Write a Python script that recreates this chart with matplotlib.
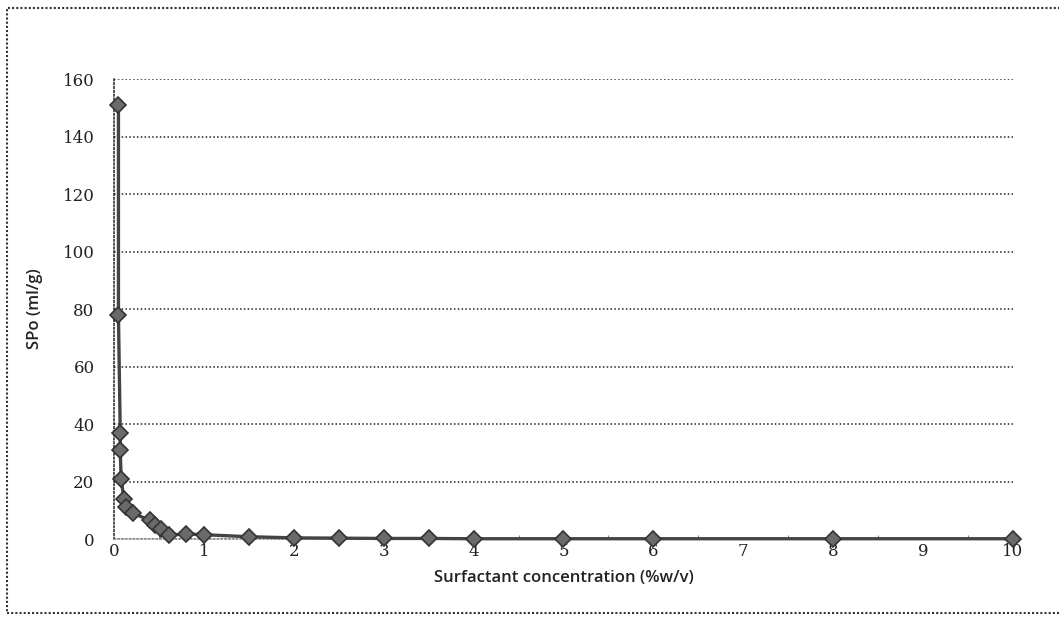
import matplotlib.pyplot as plt
from matplotlib.patches import Rectangle
from matplotlib.ticker import MultipleLocator

# concentração de surfactante (%w/v) e SPo (ml/g)
conc = [0.05, 0.05, 0.07, 0.07, 0.08, 0.11, 0.13, 0.21, 0.40, 0.46, 0.52,
        0.61, 0.80, 1.0, 1.5, 2.0, 2.5, 3.0, 3.5, 4.0, 5.0, 6.0, 8.0, 10.0]
spo = [151, 78, 37, 31, 21, 14, 11, 9, 6.5, 5, 3.5,
       1.3, 1.8, 1.5, 0.8, 0.4, 0.3, 0.2, 0.2, 0.1, 0.1, 0.1, 0.1, 0.1]

xticks = list(range(0, 11))
yticks = list(range(0, 161, 20))

fig = plt.figure(figsize=(10.59, 6.19), dpi=100)
ax = fig.add_axes([0.1076, 0.1292, 0.849, 0.743])

ax.plot(conc, spo, color='#444444', lw=2.4, marker='D', markersize=8,
        markerfacecolor='#6a6a6a', markeredgecolor='#333333', markeredgewidth=1.2,
        zorder=3, clip_on=False)

ax.set_xlim(0, 10)
ax.set_ylim(0, 160)
ax.set_xticks(xticks)
ax.set_yticks(yticks)
ax.xaxis.set_minor_locator(MultipleLocator(0.5))

ax.grid(axis='y', linestyle=(0, (1, 1.5)), color='#222222', lw=1.1)
ax.tick_params(axis='both', which='major', length=0,
               labelsize=12, labelcolor='#222222')
ax.tick_params(axis='x', which='major', pad=3)
ax.tick_params(axis='y', which='major', pad=14)
ax.tick_params(axis='x', which='minor', length=3, direction='in', color='#666666')
for lab in ax.get_xticklabels() + ax.get_yticklabels():
    lab.set_family('DejaVu Serif')

for side in ['left', 'bottom']:
    ax.spines[side].set_linestyle((0, (1, 1.5)))
    ax.spines[side].set_color('#222222')
    ax.spines[side].set_linewidth(1.1)
ax.spines['top'].set_visible(False)
ax.spines['right'].set_visible(False)
ax.spines['bottom'].set_color('#888888')

ax.set_xlabel('Surfactant concentration (%w/v)', fontsize=12, fontweight='semibold',
              family='Open Sans', color='#222222', labelpad=7)
ax.set_ylabel('SPo (ml/g)', fontsize=12, fontweight='semibold', family='Open Sans',
              color='#222222', labelpad=14)

# moldura pontilhada do gráfico
fig.patches.append(Rectangle((7 / 1059, 6 / 619), 1.1, 1 - 14 / 619,
                             transform=fig.transFigure, fill=False,
                             linestyle=(0, (1, 1)), edgecolor='#333333', lw=1.5))

fig.savefig('out.png', dpi=100)
